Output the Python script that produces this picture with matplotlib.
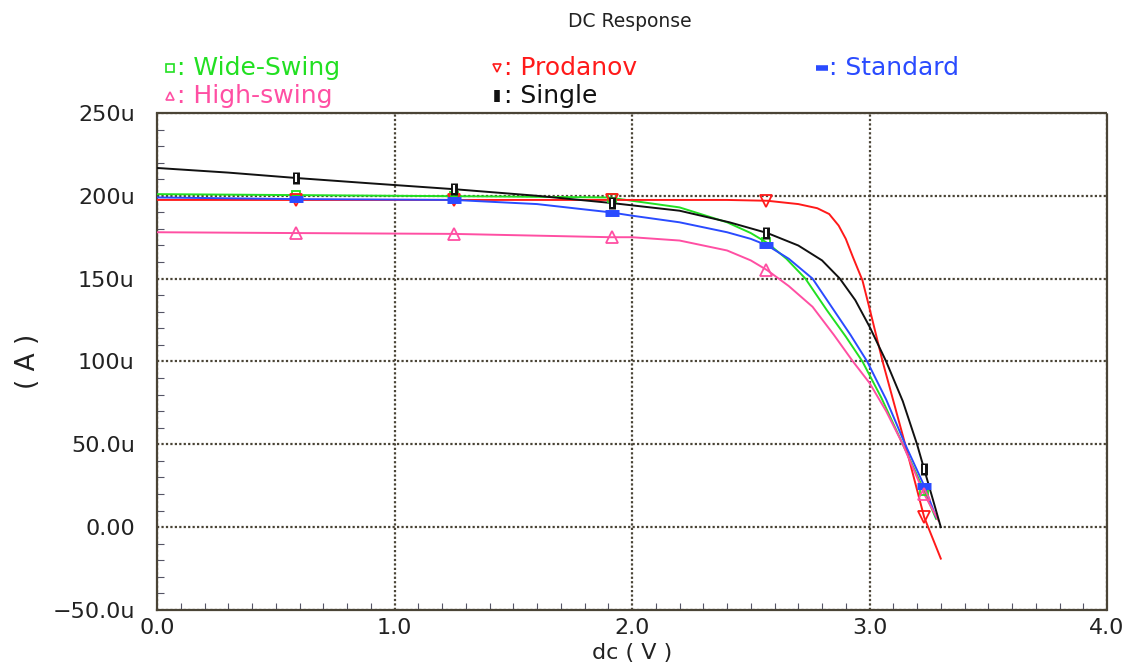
"""DC response of five current-mirror variants (output current vs dc sweep)."""

import matplotlib
matplotlib.use("Agg")
import matplotlib.pyplot as plt
import numpy as np
from matplotlib.lines import Line2D
from matplotlib.ticker import MultipleLocator, FixedLocator, FixedFormatter

# --- Data (current in uA, sweep in V) ---
wide_x = [0.0, 0.5, 1.0, 1.5, 1.9, 2.0, 2.2, 2.4, 2.5, 2.57, 2.65, 2.73, 2.82, 2.9, 2.97, 3.05, 3.14, 3.23, 3.28]
wide_y = [201, 200.5, 200, 199.5, 199, 197, 193, 184, 177.5, 171.5, 162, 150, 131, 115, 100, 78, 50, 22, 5]

prod_x = [0.0, 0.5, 1.0, 1.5, 2.0, 2.4, 2.57, 2.7, 2.78, 2.83, 2.87, 2.9, 2.93, 2.97, 3.0, 3.055, 3.15, 3.23, 3.30]
prod_y = [197.5, 197.5, 197.5, 197.5, 197.5, 197.5, 197, 195, 192.5, 189, 182, 174, 163, 149, 132, 100, 50, 6, -19]

std_x = [0.0, 0.59, 1.25, 1.6, 1.91, 2.0, 2.2, 2.4, 2.5, 2.57, 2.66, 2.76, 2.84, 2.92, 2.99, 3.07, 3.15, 3.23, 3.28]
std_y = [199, 198, 197.5, 195, 190, 188, 184, 178, 174, 170, 162, 150, 133, 116, 100, 77, 50, 25, 6]

high_x = [0.0, 0.59, 1.25, 1.91, 2.0, 2.2, 2.4, 2.5, 2.57, 2.66, 2.76, 2.85, 2.93, 3.0, 3.07, 3.14, 3.23, 3.29]
high_y = [178, 177.5, 177, 175, 175, 173, 167, 161, 155, 145.5, 133, 116, 100, 87, 70, 50, 20, 4]

single_x = [0.0, 0.3, 0.59, 0.9, 1.25, 1.6, 1.91, 2.2, 2.41, 2.57, 2.7, 2.8, 2.875, 2.94, 3.0, 3.07, 3.14, 3.2, 3.30]
single_y = [216.8, 214, 210.7, 207.5, 204, 200, 195.7, 191, 184, 177.5, 170, 161, 150, 137, 121, 100, 76, 50, 0]

MARK_X = [0.587, 1.25, 1.914, 2.566, 3.23]

SERIES = [
    ("Wide-Swing", wide_x, wide_y, "#22e022", "s", dict(ms=6)),
    ("Prodanov", prod_x, prod_y, "#ff1a1a", "v", dict(ms=8)),
    ("Standard", std_x, std_y, "#2a4bff", "_", dict(ms=10, mew=5)),
    ("High-swing", high_x, high_y, "#ff4fa3", "^", dict(ms=8)),
    ("Single", single_x, single_y, "#111111", "|", dict(ms=9, mew=5)),
]

GRID_C = "#4a4436"

fig = plt.figure(figsize=(11.42, 6.7), dpi=100)
ax = fig.add_axes([0.1375, 0.0896, 0.8319, 0.7418])

for name, xs, ys, c, m, mk in SERIES:
    ax.plot(xs, ys, color=c, lw=1.4, zorder=3)
    my = np.interp(MARK_X, xs, ys)
    if m in ("_", "|"):
        ax.plot(MARK_X, my, ls="none", marker=m, color=c, zorder=4, **mk)
        if m == "|":
            ax.plot(MARK_X, my, ls="none", marker=m, color="white", ms=mk["ms"] - 3, mew=1.5, zorder=5)
    else:
        ax.plot(MARK_X, my, ls="none", marker=m, mfc="none", mec=c, mew=1.3, zorder=4, **mk)

ax.set_xlim(0, 4.0)
ax.set_ylim(-50, 250)

ax.xaxis.set_major_locator(FixedLocator([0, 1, 2, 3, 4]))
ax.xaxis.set_major_formatter(FixedFormatter(["0.0", "1.0", "2.0", "3.0", "4.0"]))
ax.xaxis.set_minor_locator(MultipleLocator(0.1))
yt = [-50, 0, 50, 100, 150, 200, 250]
ax.yaxis.set_major_locator(FixedLocator(yt))
ax.yaxis.set_major_formatter(FixedFormatter(["\u221250.0u", "0.00", "50.0u", "100u", "150u", "200u", "250u"]))
ax.yaxis.set_minor_locator(MultipleLocator(10))

ax.tick_params(which="both", direction="in", color="#556", width=0.8)
ax.tick_params(which="major", length=0, labelsize=16, labelcolor="#222")
ax.tick_params(axis="y", which="major", pad=16)
ax.tick_params(axis="x", which="major", pad=6)
ax.tick_params(which="minor", length=5)

ax.grid(True, which="major", color=GRID_C, lw=1.6, ls=(0, (1, 1)))
for s in ax.spines.values():
    s.set_color(GRID_C)
    s.set_linewidth(1.6)
    s.set_linestyle((0, (1, 1)))

ax.set_xlabel("dc ( V )", fontsize=16, color="#222")
ax.xaxis.set_label_coords(0.5, -0.066)
ax.set_ylabel("( A )", fontsize=19, labelpad=8, color="#222")

fig.text(0.5517, 0.968, "DC Response", ha="center", va="center", fontsize=13.5, color="#222")

# legend-like header, two rows
LEG = [
    ("Wide-Swing", "#22e022", "s", 170, 68),
    ("Prodanov", "#ff1a1a", "v", 497, 68),
    ("Standard", "#2a4bff", "_", 822, 68),
    ("High-swing", "#ff4fa3", "^", 170, 96),
    ("Single", "#111111", "|", 497, 96),
]
W, H = 1142, 670
for name, c, m, px, py in LEG:
    fx, fy = px / W, 1 - py / H
    if m in ("_", "|"):
        fig.add_artist(Line2D([fx], [fy], marker=m, color=c, ms=8, mew=4, ls="none"))
    else:
        fig.add_artist(Line2D([fx], [fy], marker=m, mfc="none", mec=c, mew=1.2, ms=6, ls="none"))
    fig.text(fx + 0.006, fy, ": " + name, color=c, fontsize=18, va="center", ha="left")

fig.savefig("out.png", dpi=100)
